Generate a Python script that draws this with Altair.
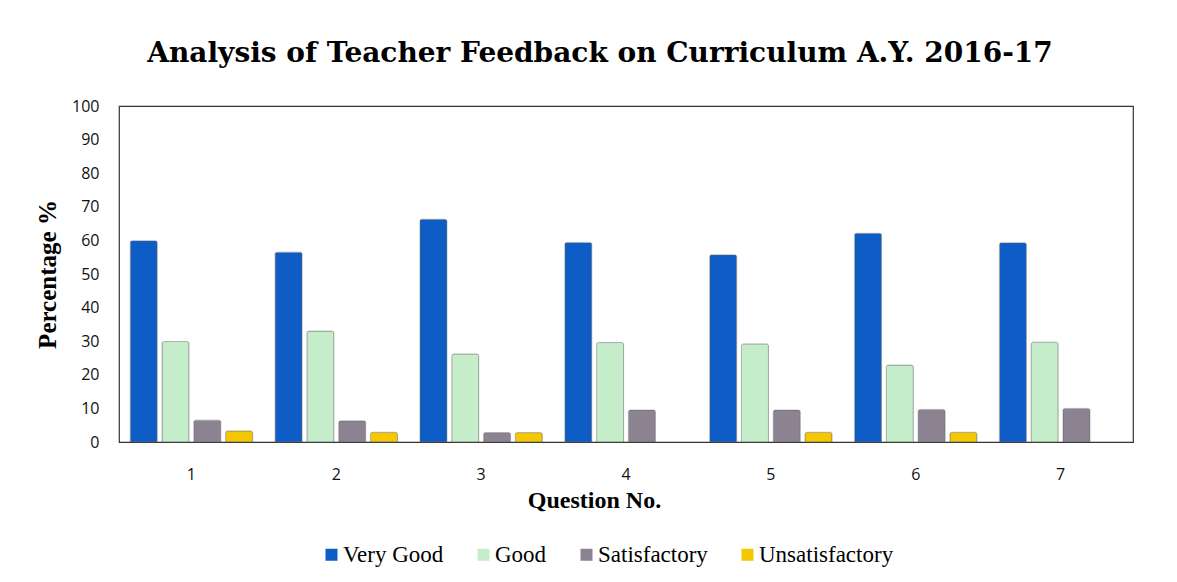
import altair as alt
import pandas as pd

questions = ["1", "2", "3", "4", "5", "6", "7"]
categories = ["Very Good", "Good", "Satisfactory", "Unsatisfactory"]
very_good = [59.9, 56.5, 66.3, 59.4, 55.7, 62.1, 59.3]
good = [29.9, 33.0, 26.2, 29.6, 29.2, 22.9, 29.7]
satisfactory = [6.5, 6.3, 2.8, 9.5, 9.5, 9.7, 10.0]
unsatisfactory = [3.3, 2.9, 2.8, 0.0, 2.9, 2.9, 0.0]
colors = ["#0E5CC6", "#C6EDCA", "#8C8392", "#F4C700"]

series = [very_good, good, satisfactory, unsatisfactory]
rows = []
for cat, vals in zip(categories, series):
    for q, v in zip(questions, vals):
        rows.append({"Question": q, "Rating": cat, "Percentage": v})
df = pd.DataFrame(rows)

chart = alt.Chart(df).transform_filter(
    "datum.Percentage > 0"
).mark_bar(
    cornerRadiusTopLeft=2, cornerRadiusTopRight=2,
    stroke="#6a6a6a", strokeWidth=1, strokeOpacity=0.45
).encode(
    x=alt.X("Question:N", sort=questions,
            scale=alt.Scale(domain=questions, paddingInner=0.155, paddingOuter=0.0775),
            axis=alt.Axis(title="Question No.", labelAngle=0, labelFont="Open Sans",
                          labelFontSize=16, labelColor="#111", labelPadding=24,
                          ticks=False, tickSize=0, domainColor="#333", domainWidth=1.2,
                          titleFont="Liberation Serif", titleFontSize=24, titleFontWeight="bold",
                          titleColor="#000", titleX=475, titleY=65, titleAlign="center",
                          titleBaseline="alphabetic")),
    xOffset=alt.XOffset("Rating:N", sort=categories,
                        scale=alt.Scale(domain=categories, paddingInner=0.15, paddingOuter=0)),
    y=alt.Y("Percentage:Q", scale=alt.Scale(domain=[0, 100], nice=False),
            axis=alt.Axis(title="Percentage %", values=list(range(0, 101, 10)),
                          grid=False, domain=False, ticks=False, tickSize=0,
                          labelFont="Open Sans", labelFontSize=16, labelColor="#111",
                          labelPadding=20,
                          titleFont="Liberation Serif", titleFontSize=25, titleFontWeight="bold",
                          titleColor="#000", titleAngle=270, titleX=-64, titleY=168,
                          titleAlign="center", titleBaseline="alphabetic")),
    color=alt.Color("Rating:N", sort=categories,
                    scale=alt.Scale(domain=categories, range=colors),
                    legend=alt.Legend(title=None, orient="none", direction="horizontal",
                                      legendX=201, legendY=437, symbolType="square",
                                      symbolSize=144, symbolStrokeWidth=0, labelOffset=0,
                                      columnPadding=28, padding=0,
                                      labelFont="Liberation Serif", labelFontSize=23,
                                      labelColor="#000", labelLimit=400)),
).properties(
    width=1014,
    height=336,
    padding={"left": 111, "top": 98, "right": 36, "bottom": 132},
    autosize=alt.AutoSizeParams(type="none"),
    title=alt.TitleParams(text="Analysis of Teacher Feedback on Curriculum A.Y. 2016-17",
                          font="DejaVu Serif", fontSize=28, fontWeight="bold",
                          color="#000", anchor="middle", frame="group", dx=-26,
                          offset=8, baseline="alphabetic"),
).configure(
    background="white",
    view=alt.ViewConfig(stroke="#333", strokeWidth=1.2),
)

chart.save("out.html", embed_options={"renderer": "svg", "actions": False})
